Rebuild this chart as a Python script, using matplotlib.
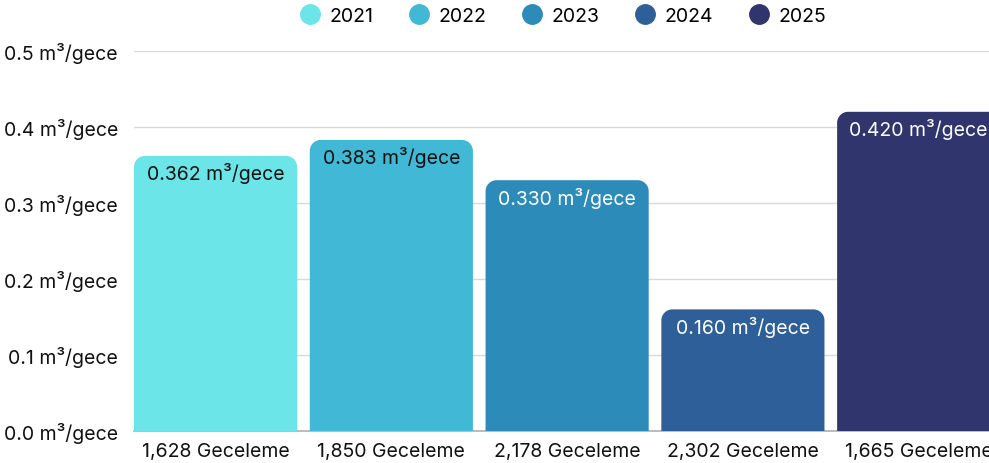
import matplotlib.pyplot as plt
from matplotlib.path import Path
from matplotlib.patches import PathPatch
from matplotlib.lines import Line2D

years = ['2021', '2022', '2023', '2024', '2025']
values = [0.362, 0.383, 0.330, 0.160, 0.420]
nights = ['1,628 Geceleme', '1,850 Geceleme', '2,178 Geceleme', '2,302 Geceleme', '1,665 Geceleme']
colors = ['#6ce5e8', '#41b8d5', '#2d8bba', '#2f5f98', '#31356e']
text_colors = ['#111111', '#111111', 'white', 'white', 'white']

plt.rcParams['font.family'] = ['Inter', 'DejaVu Sans']

fig = plt.figure(figsize=(9.89, 4.64), dpi=100)
ax = fig.add_axes([134 / 989, 1 - 432 / 464, (989 - 134) / 989, (432 - 52) / 464])

width = 0.928
ax.set_xlim(-width / 2, 4.40)
ax.set_ylim(0, 0.5)

# corner radius in pixels -> data units
ax_w = 989 - 134
ax_h = 432 - 52
rad_px = 11
rx = rad_px * (4.40 + width / 2) / ax_w
ry = rad_px * 0.5 / ax_h


def rounded_bar(x, h, w, color):
    l, r = x - w / 2, x + w / 2
    k = 0.55
    verts = [
        (l, 0), (l, h - ry),
        (l, h - ry + k * ry), (l + rx - k * rx, h), (l + rx, h),
        (r - rx, h),
        (r - rx + k * rx, h), (r, h - ry + k * ry), (r, h - ry),
        (r, 0), (l, 0),
    ]
    codes = [Path.MOVETO, Path.LINETO,
             Path.CURVE4, Path.CURVE4, Path.CURVE4,
             Path.LINETO,
             Path.CURVE4, Path.CURVE4, Path.CURVE4,
             Path.LINETO, Path.CLOSEPOLY]
    ax.add_patch(PathPatch(Path(verts, codes), facecolor=color, edgecolor='none', zorder=3))


for i, v in enumerate(values):
    rounded_bar(i, v, width, colors[i])
    ax.text(i, v - 17 * 0.5 / ax_h, f'{v:.3f} m³/gece', ha='center', va='center',
            fontsize=14, color=text_colors[i], zorder=4)

ax.set_yticks([0, 0.1, 0.2, 0.3, 0.4, 0.5])
ax.set_yticklabels([f'{t:.1f} m³/gece' for t in [0, 0.1, 0.2, 0.3, 0.4, 0.5]])
ax.set_xticks(range(5))
ax.set_xticklabels(nights)
ax.tick_params(axis='both', length=0, labelsize=14, colors='#111111')
ax.tick_params(axis='y', pad=11.5)
ax.tick_params(axis='x', pad=8)
ax.grid(axis='y', color='#d9d9d9', linewidth=1, zorder=0)
ax.set_axisbelow(True)
for s in ['top', 'right', 'left']:
    ax.spines[s].set_visible(False)
ax.spines['bottom'].set_color('#b0b0b0')
ax.spines['bottom'].set_linewidth(1.2)

handles = [Line2D([], [], marker='o', linestyle='none', markersize=14,
                  markerfacecolor=c, markeredgecolor=c) for c in colors]
fig.legend(handles, years, loc='center', bbox_to_anchor=(563 / 989, 1 - 17 / 464),
           ncol=5, frameon=False, fontsize=14, handlelength=1.0,
           handletextpad=0.5, columnspacing=1.85)

fig.savefig('out.png', dpi=100)
